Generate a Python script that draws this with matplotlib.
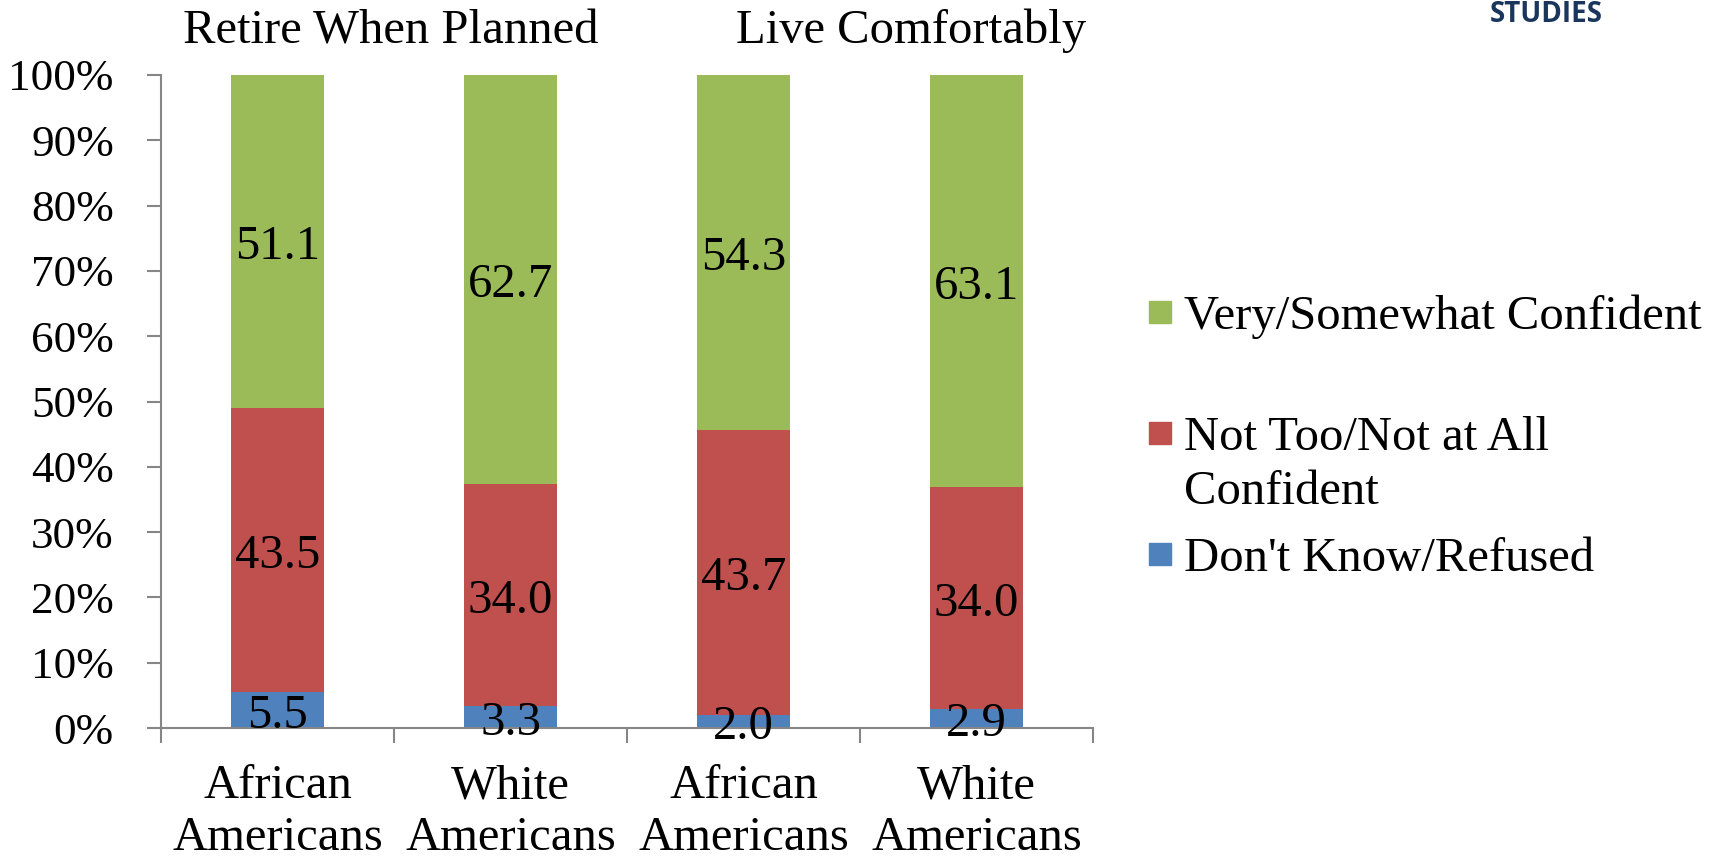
import numpy as np
import matplotlib
matplotlib.use('Agg')
import matplotlib.pyplot as plt
from matplotlib.patches import Rectangle
from matplotlib.transforms import ScaledTranslation

groups = ['African\nAmericans', 'White\nAmericans', 'African\nAmericans', 'White\nAmericans']
panel_titles = ['Retire When Planned', 'Live Comfortably']
series_names = ['Very/Somewhat Confident', 'Not Too/Not at All\nConfident', "Don't Know/Refused"]

dont_know = [5.5, 3.3, 2.0, 2.9]
not_confident = [43.5, 34.0, 43.7, 34.0]
confident = [51.1, 62.7, 54.3, 63.1]

GREEN = '#9BBB59'
RED = '#C0504D'
BLUE = '#4F81BD'
AXIS = '#868686'
W, H = 1719, 861
FS = 35

plt.rcParams['font.family'] = ['Liberation Serif', 'DejaVu Serif']

fig = plt.figure(figsize=(W / 100, H / 100), dpi=100)
ax = fig.add_axes([161 / W, 1 - 728 / H, (1093 - 161) / W, (728 - 75) / H])


def fx(px):
    return px / W


def fy(py):
    return 1 - py / H


# nudge labels down so the digits, not the text box, sit on the centre
shift = ScaledTranslation(0, -4 / 72, fig.dpi_scale_trans)

x = np.arange(len(groups))
w = 0.4
stack = [(dont_know, BLUE), (not_confident, RED), (confident, GREEN)]
bottom = np.zeros(len(groups))
for vals, col in stack:
    vals = np.array(vals)
    ax.bar(x, vals, w, bottom=bottom, color=col, zorder=2)
    for xi, v, b0 in zip(x, vals, bottom):
        ax.text(xi, b0 + v / 2, f'{v:.1f}', ha='center', va='center', fontsize=FS,
                zorder=3, transform=ax.transData + shift)
    bottom = bottom + vals

ax.set_xlim(-0.5, len(groups) - 0.5)
ax.set_ylim(0, 100)
ax.set_yticks(np.arange(0, 101, 10))
ax.set_yticklabels([f'{v}%' for v in range(0, 101, 10)])
ax.set_xticks(x)
ax.set_xticklabels(groups)
ax.set_xticks(np.arange(-0.5, len(groups), 1), minor=True)

for s in ['top', 'right']:
    ax.spines[s].set_visible(False)
for s in ['left', 'bottom']:
    ax.spines[s].set_color(AXIS)
    ax.spines[s].set_linewidth(1.5)

ax.tick_params(axis='y', length=10, width=1.5, color=AXIS, pad=24, labelsize=32.5)
ax.tick_params(axis='x', which='major', length=0, pad=26, labelsize=FS)
ax.tick_params(axis='x', which='minor', length=11, width=1.5, color=AXIS)
for t in ax.get_xticklabels():
    t.set_linespacing(1.24)

# panel headings above each pair of bars
fig.text(fx(391), fy(31), panel_titles[0], ha='center', va='center', fontsize=FS)
fig.text(fx(911), fy(31), panel_titles[1], ha='center', va='center', fontsize=FS)

# legend drawn by hand: swatch + label
sw_rows = [312, 433, 554]
txt_rows = [317, 465, 559]
leg_cols = [GREEN, RED, BLUE]
sw = 22
for name, ys, yt, col in zip(series_names, sw_rows, txt_rows, leg_cols):
    fig.patches.append(Rectangle((fx(1149), fy(ys + sw / 2)), sw / W, sw / H,
                                 transform=fig.transFigure, color=col))
    fig.text(fx(1184), fy(yt), name, ha='left', va='center', fontsize=FS,
             linespacing=1.28)

fig.text(fx(1546), fy(15), 'STUDIES', ha='center', va='center', fontsize=20,
         fontweight='bold', color='#1B365D', family=['Open Sans', 'DejaVu Sans'])

fig.savefig('out.png', dpi=100)
